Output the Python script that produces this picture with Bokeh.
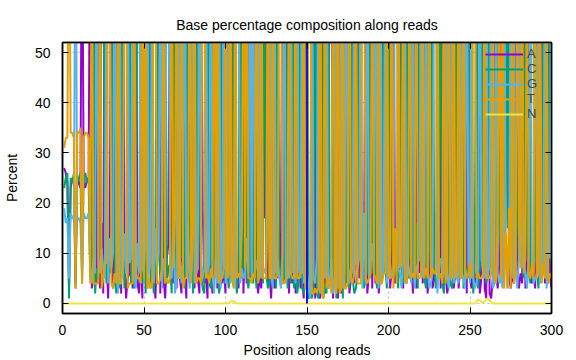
from bokeh.plotting import figure
from bokeh.models import (Range1d, LinearAxis, SingleIntervalTicker, Legend,
                          LegendItem, ColumnDataSource)
from bokeh.embed import file_html
from bokeh.resources import INLINE

# ---------------- data ----------------
positions = list(range(1, 301))

pct_A = [
    27, 26, 24, 3, 23, 25, 24, 4, 25, 24, 23, 86, 24, 23, 25, 24, 84, 3, 5, 88,
    4, 82, 3, 16, 2, 84, 9, 1, 15, 80, 3, 6, 81, 4, 17, 2, 79, 11, 1, 5,
    6, 83, 3, 18, 85, 4, 2, 10, 1, 81, 7, 3, 22, 86, 4, 6, 1, 11, 80, 2,
    84, 5, 1, 9, 12, 80, 6, 4, 87, 3, 20, 5, 2, 82, 7, 1, 79, 6, 13, 8,
    3, 86, 5, 2, 81, 19, 4, 6, 1, 84, 7, 2, 15, 80, 3, 6, 88, 4, 7, 2,
    82, 5, 13, 9, 85, 14, 6, 3, 12, 83, 2, 15, 4, 86, 5, 13, 9, 80, 6, 2,
    5, 3, 84, 17, 81, 4, 6, 1, 10, 3, 86, 5, 14, 7, 80, 4, 8, 85, 2, 18,
    4, 84, 2, 5, 83, 3, 6, 1, 88, 2, 1, 3, 2, 90, 1, 87, 2, 1, 3, 86,
    2, 5, 3, 86, 84, 1, 16, 3, 1, 88, 2, 4, 3, 7, 82, 2, 5, 85, 4, 16,
    83, 5, 13, 7, 4, 86, 2, 6, 81, 3, 18, 4, 84, 2, 6, 9, 80, 14, 7, 85,
    3, 7, 86, 4, 12, 5, 8, 83, 3, 16, 4, 81, 5, 9, 2, 88, 3, 84, 6, 14,
    4, 83, 16, 2, 7, 85, 3, 5, 14, 9, 80, 3, 87, 5, 6, 2, 4, 82, 17, 3,
    6, 82, 3, 7, 24, 8, 86, 2, 81, 5, 3, 9, 4, 6, 84, 2, 5, 80, 3, 1,
    84, 2, 1, 5, 83, 6, 3, 8, 80, 4, 7, 24, 79, 5, 3, 6, 4, 81, 7, 3,
    6, 4, 80, 3, 5, 78, 8, 4, 6, 3, 82, 5, 7, 84, 18, 4, 22, 80, 6, 3,
]

pct_C = [
    23, 25, 26, 1, 25, 24, 26, 3, 24, 25, 26, 4, 25, 26, 24, 25, 5, 6, 82, 2,
    7, 5, 8, 80, 86, 13, 4, 12, 6, 9, 84, 5, 2, 10, 3, 88, 18, 3, 9, 14,
    82, 4, 9, 3, 16, 79, 87, 5, 4, 18, 2, 12, 80, 3, 7, 2, 9, 78, 16, 5,
    6, 13, 85, 4, 7, 8, 2, 83, 4, 11, 5, 81, 9, 15, 3, 86, 8, 4, 82, 2,
    10, 4, 83, 17, 6, 3, 2, 15, 85, 4, 3, 87, 8, 6, 19, 2, 4, 82, 5, 11,
    7, 3, 11, 80, 4, 6, 2, 9, 84, 5, 8, 79, 6, 3, 7, 88, 4, 9, 3, 85,
    9, 16, 4, 82, 6, 3, 4, 87, 5, 18, 3, 80, 9, 4, 6, 5, 83, 3, 17, 4,
    85, 3, 6, 2, 5, 86, 3, 2, 4, 89, 1, 2, 1, 3, 92, 2, 1, 3, 90, 1,
    4, 2, 89, 6, 5, 3, 85, 1, 5, 3, 14, 1, 88, 4, 6, 3, 83, 5, 2, 3,
    6, 82, 9, 14, 3, 5, 7, 84, 5, 10, 80, 6, 3, 15, 4, 83, 6, 8, 3, 14,
    84, 14, 5, 8, 6, 3, 79, 6, 4, 9, 87, 5, 13, 82, 7, 4, 16, 3, 80, 8,
    8, 5, 3, 86, 14, 6, 84, 9, 3, 5, 7, 82, 4, 2, 18, 85, 6, 4, 3, 10,
    80, 6, 9, 14, 85, 3, 4, 7, 5, 83, 16, 2, 10, 85, 3, 7, 81, 8, 16, 4,
    6, 85, 7, 14, 8, 20, 72, 16, 10, 18, 12, 75, 15, 68, 20, 14, 22, 6, 17, 70,
    12, 9, 5, 82, 14, 6, 4, 80, 85, 10, 7, 3, 12, 5, 68, 9, 5, 4, 79, 8,
]

pct_G = [
    19, 16, 17, 5, 18, 17, 17, 90, 17, 17, 16, 6, 18, 17, 17, 18, 7, 4, 9, 6,
    85, 9, 6, 11, 7, 5, 79, 4, 13, 7, 10, 83, 13, 2, 86, 6, 5, 14, 6, 78,
    8, 9, 84, 5, 3, 12, 6, 81, 7, 6, 14, 82, 6, 8, 85, 4, 15, 7, 10, 88,
    3, 9, 8, 82, 87, 7, 5, 16, 2, 4, 80, 9, 4, 10, 85, 5, 16, 3, 11, 86,
    4, 6, 7, 86, 9, 5, 7, 84, 6, 8, 83, 6, 2, 9, 4, 88, 3, 9, 81, 4,
    6, 86, 4, 6, 8, 3, 87, 82, 4, 7, 5, 6, 13, 6, 83, 5, 81, 6, 8, 9,
    80, 5, 7, 6, 8, 17, 85, 6, 3, 84, 6, 9, 5, 3, 10, 87, 4, 7, 5, 84,
    6, 8, 4, 88, 7, 5, 85, 4, 5, 6, 3, 1, 95, 5, 4, 9, 94, 2, 5, 12,
    5, 90, 3, 4, 9, 2, 5, 94, 3, 7, 91, 3, 6, 86, 8, 4, 7, 6, 88, 8,
    7, 9, 84, 3, 18, 4, 87, 5, 8, 12, 6, 85, 9, 3, 86, 4, 8, 82, 4, 6,
    8, 5, 6, 83, 88, 7, 6, 3, 9, 80, 5, 8, 6, 4, 85, 3, 7, 8, 9, 82,
    5, 7, 84, 7, 3, 4, 6, 80, 87, 2, 8, 9, 5, 6, 82, 6, 3, 9, 85, 4,
    9, 5, 4, 84, 6, 5, 3, 86, 8, 4, 86, 5, 3, 4, 7, 86, 9, 6, 5, 90,
    5, 8, 86, 3, 4, 70, 6, 4, 5, 3, 78, 9, 3, 8, 74, 5, 70, 7, 3, 9,
    75, 7, 9, 6, 3, 10, 83, 8, 4, 5, 6, 86, 4, 7, 6, 82, 3, 12, 9, 84,
]

pct_T = [
    31, 33, 33, 91, 34, 34, 33, 3, 34, 34, 35, 4, 33, 34, 34, 33, 4, 87, 4, 4,
    4, 4, 83, 3, 5, 8, 8, 82, 86, 4, 3, 6, 4, 84, 4, 4, 8, 82, 82, 3,
    4, 4, 4, 84, 6, 5, 5, 4, 84, 5, 87, 3, 5, 3, 4, 88, 83, 4, 4, 5,
    7, 83, 4, 5, 4, 5, 87, 7, 17, 82, 5, 5, 85, 3, 5, 5, 7, 87, 4, 14,
    83, 4, 5, 5, 4, 83, 87, 5, 6, 4, 7, 5, 85, 5, 84, 4, 5, 5, 7, 83,
    5, 6, 82, 5, 3, 87, 5, 6, 5, 15, 85, 7, 87, 5, 5, 4, 6, 5, 83, 4,
    6, 86, 5, 5, 5, 86, 5, 5, 82, 5, 5, 6, 83, 86, 4, 4, 5, 5, 86, 6,
    5, 5, 88, 5, 5, 6, 6, 93, 3, 3, 95, 94, 2, 2, 3, 2, 3, 94, 2, 1,
    89, 3, 5, 4, 2, 94, 4, 2, 91, 2, 3, 92, 3, 3, 4, 91, 5, 4, 6, 83,
    4, 4, 4, 86, 87, 5, 4, 5, 6, 85, 6, 5, 4, 90, 4, 4, 6, 6, 86, 5,
    5, 84, 3, 15, 4, 85, 7, 8, 84, 5, 4, 6, 86, 5, 6, 5, 84, 5, 5, 6,
    83, 5, 7, 5, 86, 5, 7, 6, 6, 84, 5, 6, 4, 87, 4, 7, 87, 5, 5, 83,
    5, 7, 84, 5, 5, 84, 7, 5, 6, 8, 5, 84, 83, 5, 6, 5, 5, 6, 86, 5,
    5, 5, 6, 78, 5, 4, 19, 72, 5, 75, 3, 14, 3, 19, 3, 75, 4, 6, 73, 18,
    7, 80, 6, 9, 78, 6, 5, 8, 5, 82, 5, 6, 77, 4, 8, 5, 70, 4, 6, 5,
]

pct_N = [
    0, 0, 0, 0, 0, 0, 0, 0, 0, 0, 0, 0, 0, 0, 0, 0, 0, 0, 0, 0,
    0, 0, 0, 0, 0, 0, 0, 0, 0, 0, 0, 0, 0, 0, 0, 0, 0, 0, 0, 0,
    0, 0, 0, 0, 0, 0, 0, 0, 0, 0, 0, 0, 0, 0, 0, 0, 0, 0, 0, 0,
    0, 0, 0, 0, 0, 0, 0, 0, 0, 0, 0, 0, 0, 0, 0, 0, 0, 0, 0, 0,
    0, 0, 0, 0, 0, 0, 0, 0, 0, 0, 0, 0, 0, 0, 0, 0, 0, 0, 0, 0,
    0, 0, 0.3, 0.5, 0.4, 0.2, 0, 0, 0, 0, 0, 0, 0, 0, 0, 0, 0, 0, 0, 0,
    0, 0, 0, 0, 0, 0, 0, 0, 0, 0, 0, 0, 0, 0, 0, 0, 0, 0, 0, 0,
    0, 0, 0, 0, 0, 0, 0, 0, 0, 0, 0, 0, 0, 0, 0, 0, 0, 0, 0, 0,
    0, 0, 0, 0, 0, 0, 0, 0, 0, 0, 0, 0, 0, 0, 0, 0, 0, 0, 0, 0,
    0, 0, 0, 0, 0, 0, 0, 0, 0, 0, 0, 0, 0, 0, 0, 0, 0, 0, 0, 0,
    0, 0, 0, 0, 0, 0, 0, 0, 0, 0, 0, 0, 0, 0, 0, 0, 0, 0, 0, 0,
    0, 0, 0, 0, 0, 0, 0, 0, 0, 0, 0, 0, 0, 0, 0, 0, 0, 0, 0, 0,
    0, 0, 0, 0, 0, 0, 0, 0, 0, 0, 0, 0, 0, 0.2, 0.8, 0.6, 0.3, 0.2, 0.4, 0.9,
    1.0, 0.6, 0.2, 0, 0, 0, 0, 0, 0, 0, 0, 0, 0, 0, 0, 0, 0, 0, 0, 0,
    0, 0, 0, 0, 0, 0, 0, 0, 0, 0, 0, 0, 0, 0, 0, 0, 0, 0, 0, 0,
]

bases = ["A", "C", "G", "T", "N"]
series = [pct_A, pct_C, pct_G, pct_T, pct_N]
colors = ["#9400D3", "#009E73", "#56B4E9", "#E69F00", "#F0E442"]

read_boundary_x = [150, 150]
read_boundary_y = [0, 100]

x_ticks_interval = 50
y_ticks_interval = 10

# ---------------- figure ----------------
FONT = "Liberation Sans"

p = figure(width=576, height=360, output_backend="svg", toolbar_location=None,
           x_range=Range1d(0, 300), y_range=Range1d(-2, 52),
           min_border_left=61, min_border_right=25, min_border_top=42,
           min_border_bottom=45,
           title="Base percentage composition along reads")
p.background_fill_color = "white"
p.border_fill_color = "white"
p.outline_line_color = "black"
p.outline_line_width = 1.5

p.title.align = "center"
p.title.text_font = FONT
p.title.text_font_size = "14px"
p.title.text_font_style = "normal"
p.title.text_color = "black"
p.title.standoff = 12

xt = SingleIntervalTicker(interval=x_ticks_interval)
yt = SingleIntervalTicker(interval=y_ticks_interval)

for ax, tk in ((p.xaxis[0], xt), (p.yaxis[0], yt)):
    ax.ticker = tk
    ax.major_tick_in = 6
    ax.major_tick_out = 0
    ax.minor_tick_line_color = None
    ax.major_tick_line_color = "black"
    ax.major_tick_line_width = 1
    ax.axis_line_color = "black"
    ax.axis_line_width = 1.5
    ax.major_label_text_font = FONT
    ax.major_label_text_font_size = "14px"
    ax.major_label_text_color = "black"
    ax.axis_label_text_font = FONT
    ax.axis_label_text_font_size = "14px"
    ax.axis_label_text_font_style = "normal"
    ax.axis_label_text_color = "black"

p.xaxis.axis_label = "Position along reads"
p.yaxis.axis_label = "Percent"
p.xaxis.major_label_standoff = 7
p.xaxis.axis_label_standoff = 4
p.yaxis.major_label_standoff = 8
p.yaxis.axis_label_standoff = 12

# mirrored tick marks (no labels drawn)
for loc, tk in (("right", yt), ("above", xt)):
    ax = LinearAxis(ticker=tk, major_tick_in=6, major_tick_out=0,
                    minor_tick_line_color=None, major_label_text_font_size="2px",
                    major_label_text_color=None, major_label_standoff=0,
                    axis_line_color="black", axis_line_width=1.5)
    p.add_layout(ax, loc)

for g in (p.xgrid[0], p.ygrid[0]):
    g.grid_line_color = "#b8b8b8"
    g.grid_line_dash = "2 3"
    g.grid_line_width = 1
p.xgrid[0].ticker = xt
p.ygrid[0].ticker = yt

items = []
for name, vals, col in zip(bases, series, colors):
    src = ColumnDataSource(dict(x=positions[:len(vals)], y=vals))
    r = p.line("x", "y", source=src, line_color=col, line_width=2)
    items.append(LegendItem(label=name, renderers=[r]))

p.line(read_boundary_x, read_boundary_y, line_color="#1010ff", line_width=2)

legend = Legend(items=items, location="top_right", glyph_width=38,
                glyph_height=14, label_height=14, spacing=0, padding=2,
                margin=4, label_standoff=4, background_fill_alpha=0,
                border_line_color=None, label_text_font=FONT,
                label_text_font_size="13px")
p.add_layout(legend)

open("out.html", "w").write(file_html(p, INLINE))
